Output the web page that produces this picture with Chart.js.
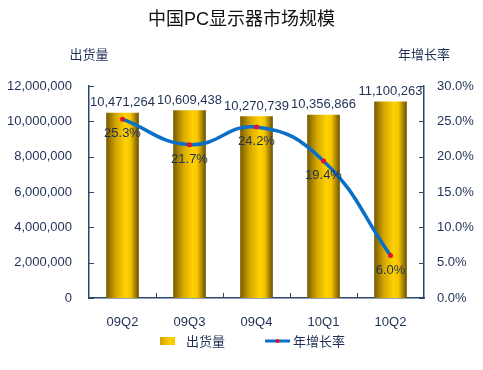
<!DOCTYPE html>
<html>
<head>
<meta charset="utf-8">
<script src="https://cdn.jsdelivr.net/npm/chart.js@4"></script>
<style>
  body { margin: 0; background: #fff; }
</style>
</head>
<body>
<canvas id="monitorChart" width="483" height="370"></canvas>
<script>
// Dati
const categories = ["09Q2", "09Q3", "09Q4", "10Q1", "10Q2"];
const shipments = [10471264, 10609438, 10270739, 10356866, 11100263];
const growthRate = [25.3, 21.7, 24.2, 19.4, 6.0];
const shipmentAxis = { min: 0, max: 12000000, step: 2000000 };
const rateAxis = { min: 0, max: 30, step: 5 };

const titleText = "中国PC显示器市场规模";
const leftTitle = "出货量";
const rightTitle = "年增长率";

const FONT = "'Liberation Sans', 'Noto Sans CJK SC', sans-serif";
const NAVY = "#1F2F55";
const AXIS = "#2B4570";
const LINE_BLUE = "#0A6FC8";
const BAR_W = 32;

function barGradient(ctx, x) {
    const g = ctx.createLinearGradient(x - BAR_W / 2, 0, x + BAR_W / 2, 0);
    g.addColorStop(0, "#7A5E00");
    g.addColorStop(0.3, "#D6A800");
    g.addColorStop(0.6, "#FFD200");
    g.addColorStop(0.75, "#F5C400");
    g.addColorStop(1, "#6E5400");
    return g;
}

// Titolo, etichette, tacche interne e legenda
const decorations = {
    id: "decorations",
    afterDatasetsDraw(chart) {
        const { ctx } = chart;
        ctx.save();
        ctx.font = "13px " + FONT;
        ctx.fillStyle = NAVY;
        ctx.textAlign = "center";

        // valori sopra le barre
        const barMeta = chart.getDatasetMeta(0);
        barMeta.data.forEach((bar, i) => {
            ctx.textBaseline = "bottom";
            ctx.fillText(shipments[i].toLocaleString("en-US"), bar.x, bar.y - 4);
        });

        // percentuali sotto i punti
        const lineMeta = chart.getDatasetMeta(1);
        lineMeta.data.forEach((pt, i) => {
            ctx.textBaseline = "top";
            ctx.fillText(growthRate[i].toFixed(1) + "%", pt.x, pt.y + 8);
        });
        ctx.restore();
    },
    afterDraw(chart) {
        const { ctx, chartArea, scales } = chart;
        ctx.save();

        // tacche verso l'interno
        ctx.strokeStyle = AXIS;
        ctx.lineWidth = 1;
        scales.y.ticks.forEach(t => {
            const y = Math.round(scales.y.getPixelForValue(t.value)) + 0.5;
            ctx.beginPath();
            ctx.moveTo(chartArea.left, y);
            ctx.lineTo(chartArea.left + 5, y);
            ctx.stroke();
        });
        scales.y1.ticks.forEach(t => {
            const y = Math.round(scales.y1.getPixelForValue(t.value)) + 0.5;
            ctx.beginPath();
            ctx.moveTo(chartArea.right - 5, y);
            ctx.lineTo(chartArea.right, y);
            ctx.stroke();
        });
        const step = (chartArea.right - chartArea.left) / categories.length;
        for (let i = 1; i < categories.length; i++) {
            const x = Math.round(chartArea.left + step * i) + 0.5;
            ctx.beginPath();
            ctx.moveTo(x, chartArea.bottom);
            ctx.lineTo(x, chartArea.bottom - 5);
            ctx.stroke();
        }

        // titolo
        ctx.fillStyle = "#111";
        ctx.textAlign = "center";
        ctx.textBaseline = "middle";
        ctx.font = "18px " + FONT;
        ctx.fillText(titleText, chart.width / 2, 20);

        // titoli degli assi
        ctx.fillStyle = NAVY;
        ctx.font = "13px " + FONT;
        ctx.fillText(leftTitle, chartArea.left, 55);
        ctx.fillText(rightTitle, chartArea.right, 55);

        // legenda
        const ly = 341;
        ctx.fillStyle = barGradient(ctx, 167.5);
        ctx.fillRect(160, ly - 4, 15, 8);
        ctx.fillStyle = NAVY;
        ctx.textAlign = "left";
        ctx.fillText(chart.data.datasets[0].label, 186, ly + 1);

        ctx.strokeStyle = LINE_BLUE;
        ctx.lineWidth = 3;
        ctx.beginPath();
        ctx.moveTo(265, ly);
        ctx.lineTo(290, ly);
        ctx.stroke();
        ctx.fillStyle = "#E8102A";
        ctx.beginPath();
        ctx.arc(277.5, ly, 2, 0, Math.PI * 2);
        ctx.fill();
        ctx.fillStyle = NAVY;
        ctx.fillText(chart.data.datasets[1].label, 293, ly + 1);

        ctx.restore();
    }
};

const chartCtx = document.getElementById("monitorChart").getContext("2d");
new Chart(chartCtx, {
    data: {
        labels: categories,
        datasets: [{
            type: "bar",
            label: "出货量",
            data: shipments,
            yAxisID: "y",
            barThickness: BAR_W,
            order: 2,
            backgroundColor: function (context) {
                const chart = context.chart;
                if (!chart.chartArea) return "#FFCC00";
                const x = chart.scales.x.getPixelForValue(context.dataIndex);
                return barGradient(chart.ctx, x);
            },
            borderWidth: 0
        }, {
            type: "line",
            label: "年增长率",
            data: growthRate,
            yAxisID: "y1",
            order: 1,
            borderColor: LINE_BLUE,
            borderWidth: 3.5,
            tension: 0.45,
            pointRadius: 2.5,
            pointBackgroundColor: "#E8102A",
            pointBorderWidth: 0,
            clip: false
        }]
    },
    options: {
        responsive: false,
        animation: false,
        layout: { padding: { top: 86, left: 0, right: 0, bottom: 0 } },
        plugins: {
            legend: { display: false },
            tooltip: { enabled: false }
        },
        scales: {
            x: {
                offset: true,
                grid: { display: false, drawTicks: false },
                border: { display: true, color: AXIS, width: 1.5 },
                ticks: { color: NAVY, font: { family: FONT, size: 13 }, padding: 17 },
                afterFit(s) { s.height = 72; s.paddingLeft = 0; s.paddingRight = 0; }
            },
            y: {
                position: "left",
                min: shipmentAxis.min,
                max: shipmentAxis.max,
                grid: { display: false, drawTicks: false },
                border: { display: true, color: AXIS, width: 1.5 },
                ticks: {
                    stepSize: shipmentAxis.step,
                    color: NAVY,
                    font: { family: FONT, size: 13 },
                    padding: 17,
                    callback: v => v.toLocaleString("en-US")
                },
                afterFit(s) { s.width = 89; s.paddingTop = 0; s.paddingBottom = 0; }
            },
            y1: {
                position: "right",
                min: rateAxis.min,
                max: rateAxis.max,
                grid: { display: false, drawTicks: false },
                border: { display: true, color: AXIS, width: 1.5 },
                ticks: {
                    stepSize: rateAxis.step,
                    color: NAVY,
                    font: { family: FONT, size: 13 },
                    padding: 13,
                    callback: v => v.toFixed(1) + "%"
                },
                afterFit(s) { s.width = 59; s.paddingTop = 0; s.paddingBottom = 0; }
            }
        }
    },
    plugins: [decorations]
});
</script>
</body>
</html>
